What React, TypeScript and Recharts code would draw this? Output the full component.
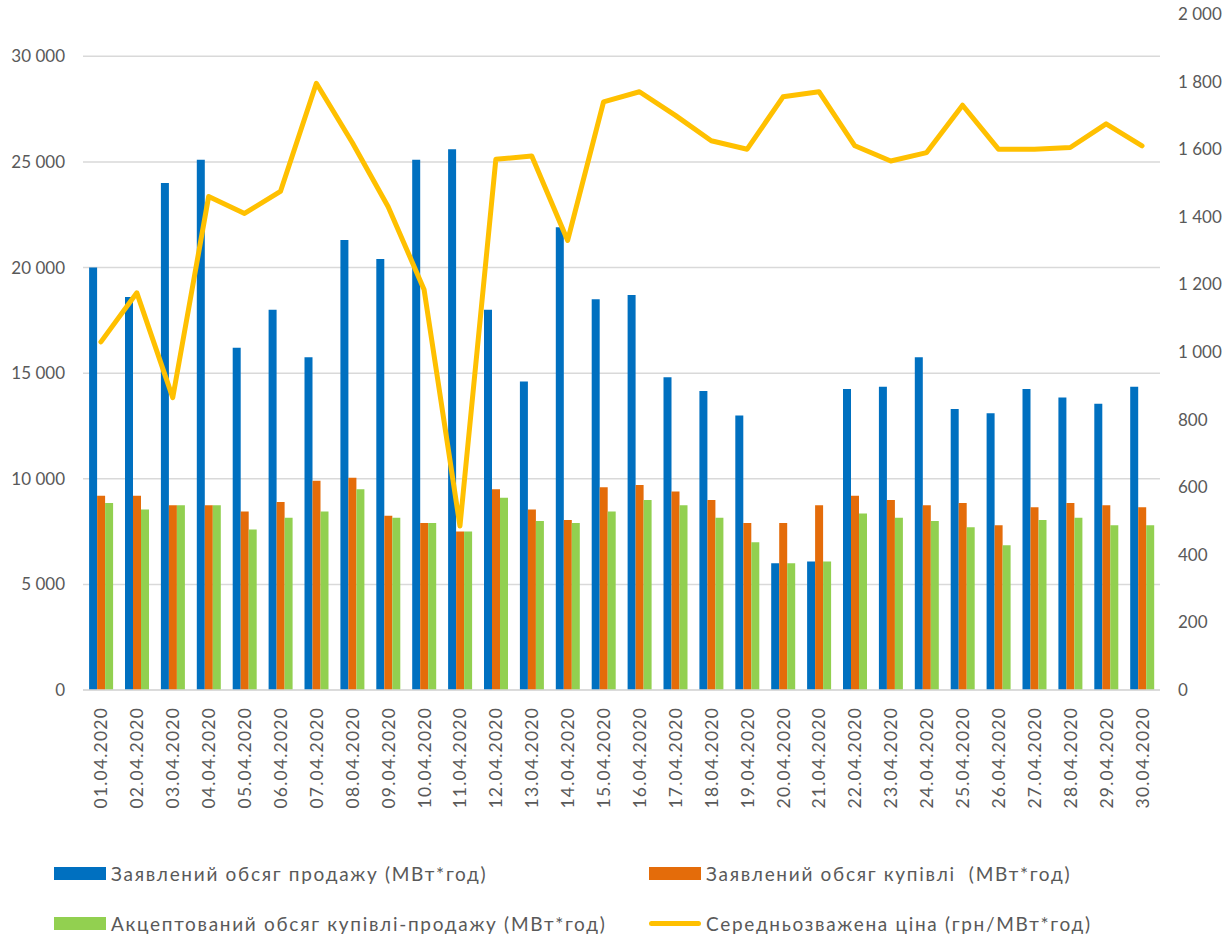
import { Bar, CartesianGrid, ComposedChart, Legend, Line, XAxis, YAxis } from "recharts";

const dates = [
  "01.04.2020", "02.04.2020", "03.04.2020", "04.04.2020", "05.04.2020",
  "06.04.2020", "07.04.2020", "08.04.2020", "09.04.2020", "10.04.2020",
  "11.04.2020", "12.04.2020", "13.04.2020", "14.04.2020", "15.04.2020",
  "16.04.2020", "17.04.2020", "18.04.2020", "19.04.2020", "20.04.2020",
  "21.04.2020", "22.04.2020", "23.04.2020", "24.04.2020", "25.04.2020",
  "26.04.2020", "27.04.2020", "28.04.2020", "29.04.2020", "30.04.2020",
];

const declaredSale = [
  20000, 18600, 24000, 25100, 16200, 18000, 15750, 21300, 20400, 25100,
  25600, 18000, 14600, 21900, 18500, 18700, 14800, 14150, 13000, 6000,
  6080, 14250, 14350, 15750, 13300, 13100, 14250, 13850, 13550, 14350,
];

const declaredBuy = [
  9200, 9200, 8750, 8750, 8450, 8900, 9900, 10050, 8250, 7900,
  7500, 9500, 8550, 8050, 9600, 9700, 9400, 9000, 7900, 7900,
  8750, 9200, 9000, 8750, 8850, 7800, 8650, 8850, 8750, 8650,
];

const accepted = [
  8850, 8550, 8750, 8750, 7600, 8150, 8450, 9500, 8150, 7900,
  7500, 9100, 8000, 7900, 8450, 9000, 8750, 8150, 7000, 6000,
  6080, 8350, 8150, 8000, 7700, 6850, 8050, 8150, 7800, 7800,
];

const avgPrice = [
  1030, 1175, 865, 1460, 1410, 1475, 1795, 1620, 1430, 1185,
  485, 1570, 1580, 1330, 1740, 1770, 1700, 1625, 1600, 1755,
  1770, 1610, 1565, 1590, 1730, 1600, 1600, 1605, 1675, 1610,
];

const volumeTicks = [0, 5000, 10000, 15000, 20000, 25000, 30000];
const priceTicks = [0, 200, 400, 600, 800, 1000, 1200, 1400, 1600, 1800, 2000];

const labels = {
  sale: "Заявлений обсяг продажу (МВт*год)",
  buy: "Заявлений обсяг купівлі  (МВт*год)",
  accepted: "Акцептований обсяг купівлі-продажу (МВт*год)",
  price: "Середньозважена ціна (грн/МВт*год)",
};

const colors = {
  sale: "#0070C0",
  buy: "#E46C0A",
  accepted: "#92D050",
  price: "#FFC000",
};

const data = dates.map((date, i) => ({
  date,
  sale: declaredSale[i],
  buy: declaredBuy[i],
  accepted: accepted[i],
  price: avgPrice[i],
}));

const FONT = "Lato, 'Open Sans', sans-serif";
const TEXT = "#595959";

const fmt = (v: number) => String(v).replace(/\B(?=(\d{3})+(?!\d))/g, " ");

function DateTick({ x, y, payload }: any) {
  return (
    <text
      x={x}
      y={y}
      transform={`rotate(-90 ${x} ${y})`}
      textAnchor="end"
      dominantBaseline="central"
      fill={TEXT}
      fontFamily={FONT}
      fontSize={17.5}
      letterSpacing={1.2}
    >
      {payload.value}
    </text>
  );
}

function LegendItem({ name, color, line, left, top }: { name: string; color: string; line?: boolean; left: number; top: number }) {
  return (
    <div style={{ position: "absolute", left, top, display: "flex", alignItems: "center", whiteSpace: "pre" }}>
      {line ? (
        <span style={{ display: "inline-block", width: 52, height: 5, borderRadius: 3, background: color }} />
      ) : (
        <span style={{ display: "inline-block", width: 52, height: 13, background: color }} />
      )}
      <span style={{ marginLeft: 5, fontFamily: FONT, fontSize: 19, color: TEXT, letterSpacing: 1.7 }}>{name}</span>
    </div>
  );
}

function ChartLegend() {
  return (
    <div style={{ position: "relative", width: 1223, height: 80 }}>
      <LegendItem name={labels.sale} color={colors.sale} left={54} top={7} />
      <LegendItem name={labels.buy} color={colors.buy} left={649} top={7} />
      <LegendItem name={labels.accepted} color={colors.accepted} left={54} top={57} />
      <LegendItem name={labels.price} color={colors.price} line left={649} top={57} />
    </div>
  );
}

export default function App() {
  return (
    <div style={{ width: 1223, height: 938, background: "#fff" }}>
      <style>{"body{margin:0}"}</style>
      <ComposedChart
        width={1223}
        height={938}
        data={data}
        margin={{ top: 14, right: 0, bottom: 128, left: 0 }}
        barCategoryGap="17%"
        barGap={0}
      >
        <CartesianGrid
          vertical={false}
          yAxisId="left"
          horizontalValues={volumeTicks}
          stroke="#d9d9d9"
          strokeWidth={1.5}
        />
        <XAxis
          dataKey="date"
          interval={0}
          height={120}
          tick={<DateTick />}
          tickLine={false}
          tickMargin={11}
          axisLine={{ stroke: "#d9d9d9", strokeWidth: 1.5 }}
        />
        <YAxis
          yAxisId="left"
          width={83}
          domain={[0, 32000]}
          ticks={volumeTicks}
          tickFormatter={fmt}
          axisLine={false}
          tickLine={false}
          tickMargin={12}
          tick={{ fill: TEXT, fontFamily: FONT, fontSize: 17 }}
        />
        <YAxis
          yAxisId="right"
          orientation="right"
          width={63}
          domain={[0, 2000]}
          ticks={priceTicks}
          tickFormatter={fmt}
          axisLine={false}
          tickLine={false}
          tickMargin={12}
          tick={{ fill: TEXT, fontFamily: FONT, fontSize: 17, textAnchor: "start" }}
        />
        <Bar yAxisId="left" dataKey="sale" name={labels.sale} fill={colors.sale} isAnimationActive={false} />
        <Bar yAxisId="left" dataKey="buy" name={labels.buy} fill={colors.buy} isAnimationActive={false} />
        <Bar yAxisId="left" dataKey="accepted" name={labels.accepted} fill={colors.accepted} isAnimationActive={false} />
        <Line
          yAxisId="right"
          dataKey="price"
          name={labels.price}
          stroke={colors.price}
          strokeWidth={5}
          strokeLinejoin="round"
          strokeLinecap="round"
          dot={false}
          activeDot={false}
          type="linear"
          isAnimationActive={false}
        />
        <Legend
          layout="horizontal"
          verticalAlign="middle"
          align="center"
          content={() => <ChartLegend />}
          wrapperStyle={{ top: 855, left: 0, width: 1223 }}
        />
      </ComposedChart>
    </div>
  );
}
